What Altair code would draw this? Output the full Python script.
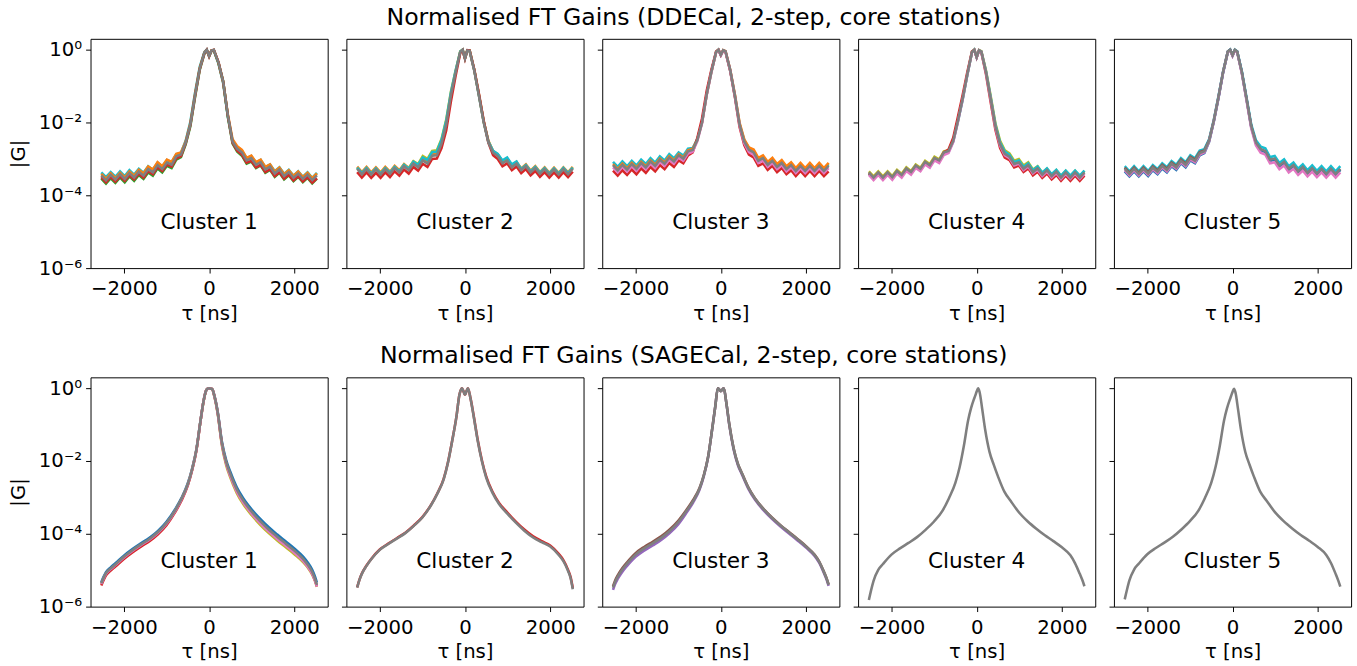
import altair as alt
import pandas as pd

# ---------------- x grids (tau in ns) ----------------
TAU_TOP = [-2530, -2420, -2310, -2200, -2090, -1980, -1870, -1760, -1650, -1540,
           -1430, -1320, -1210, -1100, -990, -880, -770, -660, -550, -440,
           -330, -220, -110, -55, 0, 55, 110, 220, 330, 440,
           550, 660, 770, 880, 990, 1100, 1210, 1320, 1430, 1540,
           1650, 1760, 1870, 1980, 2090, 2200, 2310, 2420, 2530]

TAU_BOT = [-2530, -2480, -2420, -2310, -2200, -2000, -1800, -1600, -1400, -1200,
           -1000, -800, -650, -500, -400, -300, -200, -130, -70, -35,
           0, 35, 70, 130, 200, 300, 400, 500, 650, 800,
           1000, 1200, 1400, 1600, 1800, 2000, 2200, 2310, 2420, 2480, 2530]

# ---------------- DDECal (log10 |G|) ----------------
DDE1_CYAN = [-3.37, -3.50, -3.36, -3.49, -3.34, -3.47, -3.31, -3.43, -3.27, -3.38,
             -3.20, -3.30, -3.10, -3.21, -3.03, -3.09, -2.87, -2.83, -2.50, -1.98,
             -1.18, -0.47, -0.06, 0.0, -0.15, -0.03, -0.02, -0.38, -0.92, -1.84,
             -2.50, -2.68, -2.77, -2.98, -2.92, -3.10, -3.03, -3.23, -3.15, -3.34,
             -3.23, -3.41, -3.30, -3.46, -3.34, -3.49, -3.37, -3.52, -3.38]
DDE1_ORANGE = [-3.41, -3.55, -3.40, -3.53, -3.38, -3.51, -3.35, -3.46, -3.30, -3.40,
               -3.21, -3.29, -3.09, -3.20, -3.02, -3.08, -2.86, -2.82, -2.52, -2.02,
               -1.22, -0.50, -0.07, -0.01, -0.16, -0.02, -0.01, -0.36, -0.90, -1.78,
               -2.46, -2.65, -2.75, -2.97, -2.91, -3.09, -3.02, -3.22, -3.15, -3.35,
               -3.24, -3.42, -3.31, -3.47, -3.35, -3.50, -3.38, -3.53, -3.40]
DDE1_GREEN = [-3.54, -3.68, -3.53, -3.66, -3.51, -3.64, -3.48, -3.60, -3.44, -3.55,
              -3.37, -3.46, -3.26, -3.37, -3.19, -3.25, -3.02, -2.95, -2.60, -2.10,
              -1.30, -0.55, -0.10, -0.01, -0.18, -0.03, -0.01, -0.36, -0.86, -1.84,
              -2.58, -2.80, -2.91, -3.13, -3.07, -3.25, -3.18, -3.38, -3.30, -3.49,
              -3.38, -3.56, -3.45, -3.61, -3.49, -3.64, -3.52, -3.67, -3.54]
DDE1_RED = [-3.50, -3.64, -3.49, -3.62, -3.47, -3.60, -3.44, -3.56, -3.40, -3.51,
            -3.33, -3.42, -3.22, -3.33, -3.15, -3.21, -2.98, -2.92, -2.57, -2.07,
            -1.27, -0.53, -0.09, 0.0, -0.18, -0.02, 0.0, -0.34, -0.87, -1.81,
            -2.55, -2.77, -2.88, -3.10, -3.05, -3.23, -3.16, -3.36, -3.28, -3.47,
            -3.36, -3.54, -3.43, -3.59, -3.47, -3.62, -3.50, -3.65, -3.53]
DDE1_GRAY = [-3.45, -3.59, -3.44, -3.57, -3.42, -3.55, -3.39, -3.51, -3.35, -3.46,
             -3.28, -3.37, -3.17, -3.28, -3.10, -3.16, -2.93, -2.88, -2.55, -2.05,
             -1.25, -0.52, -0.08, 0.0, -0.17, -0.02, 0.0, -0.35, -0.88, -1.80,
             -2.52, -2.72, -2.82, -3.04, -2.98, -3.16, -3.09, -3.29, -3.21, -3.40,
             -3.29, -3.47, -3.36, -3.52, -3.40, -3.55, -3.43, -3.58, -3.45]

DDE2_ORANGE = [-3.21, -3.36, -3.22, -3.37, -3.23, -3.37, -3.22, -3.35, -3.19, -3.31,
               -3.14, -3.25, -3.07, -3.17, -2.98, -3.07, -2.86, -2.85, -2.55, -2.03,
               -1.24, -0.62, -0.06, 0.0, -0.23, -0.02, -0.03, -0.56, -1.26, -1.97,
               -2.50, -2.78, -2.87, -3.07, -2.99, -3.18, -3.08, -3.26, -3.15, -3.32,
               -3.20, -3.36, -3.23, -3.38, -3.24, -3.38, -3.23, -3.37, -3.22]
DDE2_OLIVE = [-3.25, -3.40, -3.26, -3.41, -3.27, -3.41, -3.26, -3.39, -3.23, -3.35,
              -3.16, -3.26, -3.06, -3.14, -2.92, -3.00, -2.78, -2.76, -2.45, -1.92,
              -1.15, -0.58, -0.04, 0.0, -0.23, -0.02, -0.02, -0.56, -1.25, -1.98,
              -2.52, -2.80, -2.89, -3.09, -3.02, -3.21, -3.11, -3.29, -3.18, -3.35,
              -3.23, -3.39, -3.26, -3.41, -3.27, -3.41, -3.26, -3.40, -3.25]
DDE2_CYAN = [-3.24, -3.39, -3.25, -3.40, -3.26, -3.40, -3.25, -3.38, -3.22, -3.34,
             -3.16, -3.27, -3.08, -3.16, -2.96, -3.03, -2.81, -2.80, -2.48, -1.95,
             -1.18, -0.58, -0.05, 0.0, -0.23, -0.02, -0.03, -0.57, -1.27, -1.98,
             -2.52, -2.78, -2.86, -3.04, -2.96, -3.15, -3.07, -3.28, -3.17, -3.34,
             -3.22, -3.38, -3.25, -3.40, -3.26, -3.40, -3.25, -3.39, -3.24]
DDE2_RED = [-3.36, -3.51, -3.37, -3.52, -3.38, -3.52, -3.37, -3.50, -3.34, -3.46,
            -3.29, -3.40, -3.22, -3.32, -3.13, -3.22, -3.00, -2.99, -2.70, -2.22,
            -1.42, -0.72, -0.09, -0.01, -0.25, -0.01, -0.02, -0.55, -1.22, -1.95,
            -2.55, -2.90, -3.00, -3.20, -3.12, -3.31, -3.21, -3.39, -3.28, -3.45,
            -3.33, -3.49, -3.36, -3.51, -3.37, -3.51, -3.36, -3.50, -3.35]
DDE2_GRAY = [-3.27, -3.42, -3.28, -3.43, -3.29, -3.43, -3.28, -3.41, -3.25, -3.37,
             -3.20, -3.31, -3.13, -3.23, -3.04, -3.13, -2.91, -2.90, -2.58, -2.05,
             -1.25, -0.63, -0.06, 0.0, -0.24, -0.02, -0.03, -0.58, -1.28, -2.00,
             -2.55, -2.83, -2.92, -3.12, -3.04, -3.23, -3.13, -3.31, -3.20, -3.37,
             -3.25, -3.41, -3.28, -3.43, -3.29, -3.43, -3.28, -3.42, -3.27]

DDE3_CYAN = [-3.08, -3.22, -3.07, -3.20, -3.05, -3.18, -3.02, -3.14, -2.98, -3.10,
             -2.93, -3.04, -2.87, -2.98, -2.82, -2.91, -2.72, -2.70, -2.45, -1.98,
             -1.21, -0.59, -0.06, 0.0, -0.15, -0.02, -0.05, -0.57, -1.27, -2.04,
             -2.48, -2.70, -2.77, -3.00, -2.93, -3.11, -3.00, -3.17, -3.06, -3.23,
             -3.12, -3.28, -3.14, -3.28, -3.14, -3.28, -3.14, -3.28, -3.14]
DDE3_ORANGE = [-3.14, -3.28, -3.13, -3.26, -3.11, -3.24, -3.08, -3.20, -3.04, -3.16,
               -2.99, -3.10, -2.93, -3.04, -2.87, -2.96, -2.76, -2.72, -2.46, -1.99,
               -1.22, -0.60, -0.06, 0.0, -0.14, -0.01, -0.04, -0.54, -1.22, -2.00,
               -2.46, -2.68, -2.74, -2.97, -2.90, -3.08, -2.97, -3.14, -3.03, -3.20,
               -3.09, -3.25, -3.11, -3.25, -3.11, -3.25, -3.11, -3.25, -3.11]
DDE3_RED = [-3.32, -3.46, -3.31, -3.44, -3.29, -3.42, -3.26, -3.38, -3.22, -3.34,
            -3.17, -3.28, -3.11, -3.22, -3.04, -3.12, -2.90, -2.82, -2.42, -1.88,
            -1.12, -0.54, -0.05, 0.0, -0.15, -0.02, -0.05, -0.58, -1.30, -2.12,
            -2.62, -2.88, -2.96, -3.19, -3.12, -3.30, -3.19, -3.36, -3.25, -3.42,
            -3.31, -3.47, -3.33, -3.47, -3.33, -3.47, -3.33, -3.47, -3.34]
DDE3_PINK = [-3.23, -3.37, -3.22, -3.35, -3.20, -3.33, -3.17, -3.29, -3.13, -3.25,
             -3.08, -3.19, -3.02, -3.13, -2.96, -3.05, -2.85, -2.80, -2.51, -2.02,
             -1.24, -0.61, -0.07, -0.01, -0.15, -0.02, -0.05, -0.56, -1.27, -2.08,
             -2.57, -2.81, -2.88, -3.11, -3.04, -3.22, -3.11, -3.28, -3.17, -3.34,
             -3.23, -3.39, -3.25, -3.39, -3.25, -3.39, -3.25, -3.39, -3.25]
DDE3_GRAY = [-3.17, -3.31, -3.16, -3.29, -3.14, -3.27, -3.11, -3.23, -3.07, -3.19,
             -3.02, -3.13, -2.96, -3.07, -2.90, -2.99, -2.79, -2.75, -2.48, -2.00,
             -1.22, -0.60, -0.06, 0.0, -0.14, -0.01, -0.04, -0.55, -1.25, -2.05,
             -2.52, -2.75, -2.82, -3.05, -2.98, -3.16, -3.05, -3.22, -3.11, -3.28,
             -3.17, -3.33, -3.19, -3.33, -3.19, -3.33, -3.19, -3.33, -3.19]

DDE4_OLIVE = [-3.34, -3.48, -3.34, -3.48, -3.34, -3.47, -3.30, -3.41, -3.23, -3.33,
              -3.15, -3.24, -3.05, -3.14, -2.94, -3.01, -2.79, -2.76, -2.48, -1.94,
              -1.34, -0.67, -0.06, 0.0, -0.19, -0.01, -0.04, -0.58, -1.28, -2.02,
              -2.50, -2.76, -2.85, -3.05, -3.00, -3.18, -3.09, -3.29, -3.20, -3.38,
              -3.27, -3.43, -3.31, -3.47, -3.33, -3.47, -3.33, -3.47, -3.33]
DDE4_CYAN = [-3.41, -3.55, -3.41, -3.55, -3.41, -3.54, -3.37, -3.48, -3.30, -3.40,
             -3.22, -3.31, -3.12, -3.21, -3.01, -3.08, -2.86, -2.81, -2.52, -1.98,
             -1.38, -0.70, -0.07, 0.0, -0.21, -0.02, -0.05, -0.60, -1.32, -2.06,
             -2.55, -2.80, -2.89, -3.09, -3.04, -3.22, -3.12, -3.31, -3.21, -3.38,
             -3.26, -3.42, -3.30, -3.46, -3.32, -3.46, -3.32, -3.46, -3.32]
DDE4_RED = [-3.39, -3.53, -3.39, -3.53, -3.39, -3.52, -3.35, -3.46, -3.28, -3.38,
            -3.20, -3.29, -3.10, -3.19, -2.99, -3.06, -2.82, -2.74, -2.42, -1.84,
            -1.25, -0.62, -0.05, 0.0, -0.21, -0.02, -0.07, -0.68, -1.45, -2.20,
            -2.70, -2.96, -3.03, -3.23, -3.18, -3.36, -3.26, -3.45, -3.35, -3.52,
            -3.40, -3.56, -3.44, -3.60, -3.46, -3.60, -3.46, -3.60, -3.46]
DDE4_PINK = [-3.44, -3.58, -3.44, -3.58, -3.44, -3.57, -3.40, -3.51, -3.33, -3.43,
             -3.25, -3.34, -3.15, -3.24, -3.04, -3.11, -2.89, -2.84, -2.54, -1.98,
             -1.37, -0.69, -0.07, -0.01, -0.21, -0.02, -0.06, -0.64, -1.38, -2.14,
             -2.64, -2.90, -2.98, -3.18, -3.13, -3.31, -3.21, -3.40, -3.30, -3.47,
             -3.35, -3.51, -3.39, -3.55, -3.41, -3.55, -3.41, -3.55, -3.41]
DDE4_GRAY = [-3.37, -3.51, -3.37, -3.51, -3.37, -3.50, -3.33, -3.44, -3.26, -3.36,
             -3.18, -3.27, -3.08, -3.17, -2.97, -3.04, -2.82, -2.78, -2.50, -1.95,
             -1.35, -0.68, -0.06, 0.0, -0.20, -0.01, -0.05, -0.62, -1.35, -2.10,
             -2.60, -2.86, -2.94, -3.14, -3.09, -3.27, -3.17, -3.36, -3.26, -3.43,
             -3.31, -3.47, -3.35, -3.51, -3.37, -3.51, -3.37, -3.51, -3.37]

DDE5_CYAN = [-3.20, -3.34, -3.20, -3.34, -3.20, -3.33, -3.17, -3.28, -3.12, -3.23,
             -3.06, -3.16, -2.98, -3.09, -2.90, -2.98, -2.77, -2.73, -2.46, -1.93,
             -1.28, -0.59, -0.05, 0.0, -0.15, 0.0, -0.05, -0.60, -1.32, -2.06,
             -2.49, -2.66, -2.71, -2.95, -2.92, -3.11, -3.01, -3.20, -3.10, -3.27,
             -3.15, -3.31, -3.18, -3.33, -3.20, -3.34, -3.20, -3.34, -3.20]
DDE5_BROWN = [-3.24, -3.38, -3.24, -3.38, -3.24, -3.37, -3.21, -3.32, -3.16, -3.27,
              -3.10, -3.20, -3.02, -3.13, -2.94, -3.02, -2.81, -2.77, -2.49, -1.96,
              -1.31, -0.61, -0.05, 0.0, -0.15, -0.01, -0.06, -0.63, -1.36, -2.11,
              -2.56, -2.74, -2.80, -3.04, -3.01, -3.20, -3.10, -3.29, -3.19, -3.36,
              -3.24, -3.40, -3.27, -3.42, -3.29, -3.43, -3.29, -3.43, -3.29]
DDE5_BLUE = [-3.34, -3.48, -3.34, -3.48, -3.34, -3.47, -3.31, -3.42, -3.26, -3.37,
             -3.20, -3.30, -3.12, -3.23, -3.04, -3.12, -2.90, -2.84, -2.53, -1.98,
             -1.33, -0.62, -0.06, 0.0, -0.16, -0.01, -0.05, -0.63, -1.37, -2.13,
             -2.58, -2.76, -2.81, -3.05, -3.02, -3.21, -3.11, -3.30, -3.20, -3.37,
             -3.25, -3.41, -3.28, -3.43, -3.30, -3.44, -3.30, -3.44, -3.30]
DDE5_PINK = [-3.31, -3.45, -3.31, -3.45, -3.31, -3.44, -3.28, -3.39, -3.23, -3.34,
             -3.17, -3.27, -3.09, -3.20, -3.01, -3.09, -2.88, -2.82, -2.52, -1.97,
             -1.32, -0.61, -0.06, -0.02, -0.17, -0.02, -0.07, -0.66, -1.40, -2.16,
             -2.63, -2.83, -2.88, -3.12, -3.09, -3.28, -3.18, -3.37, -3.27, -3.44,
             -3.32, -3.48, -3.35, -3.50, -3.37, -3.51, -3.37, -3.51, -3.37]
DDE5_GRAY = [-3.27, -3.41, -3.27, -3.41, -3.27, -3.40, -3.24, -3.35, -3.19, -3.30,
             -3.13, -3.23, -3.05, -3.16, -2.97, -3.05, -2.84, -2.79, -2.50, -1.95,
             -1.30, -0.60, -0.05, 0.0, -0.15, 0.0, -0.05, -0.62, -1.35, -2.10,
             -2.55, -2.73, -2.78, -3.02, -2.99, -3.18, -3.08, -3.27, -3.17, -3.34,
             -3.22, -3.38, -3.25, -3.40, -3.27, -3.41, -3.27, -3.41, -3.27]

# ---------------- SAGECal (log10 |G|) ----------------
SAGE1_BLUE = [-5.33, -5.19, -5.05, -4.92, -4.81, -4.60, -4.42, -4.26, -4.11, -3.92,
              -3.67, -3.33, -3.02, -2.61, -2.21, -1.69, -0.87, -0.35, -0.06, -0.01,
              0.0, -0.01, -0.02, -0.23, -0.63, -1.46, -1.97, -2.30, -2.72, -3.02,
              -3.33, -3.59, -3.82, -4.02, -4.21, -4.40, -4.62, -4.78, -4.99, -5.16, -5.34]
SAGE1_OLIVE = [-5.38, -5.24, -5.10, -4.97, -4.86, -4.65, -4.47, -4.31, -4.16, -3.97,
               -3.72, -3.38, -3.06, -2.65, -2.24, -1.71, -0.89, -0.36, -0.06, -0.01,
               0.0, -0.01, -0.02, -0.26, -0.69, -1.57, -2.11, -2.46, -2.88, -3.18,
               -3.49, -3.75, -3.98, -4.18, -4.37, -4.56, -4.77, -4.92, -5.12, -5.28, -5.46]
SAGE1_RED = [-5.42, -5.28, -5.14, -5.01, -4.90, -4.69, -4.51, -4.35, -4.20, -4.01,
             -3.76, -3.41, -3.09, -2.67, -2.26, -1.72, -0.89, -0.35, -0.06, -0.01,
             0.0, -0.01, -0.02, -0.24, -0.66, -1.52, -2.05, -2.40, -2.82, -3.12,
             -3.43, -3.69, -3.92, -4.12, -4.31, -4.50, -4.72, -4.88, -5.09, -5.26, -5.44]
SAGE1_PINK = [-5.38, -5.24, -5.10, -4.97, -4.86, -4.65, -4.47, -4.31, -4.16, -3.97,
              -3.72, -3.38, -3.06, -2.65, -2.24, -1.71, -0.89, -0.35, -0.06, -0.01,
              0.0, -0.01, -0.02, -0.25, -0.67, -1.54, -2.07, -2.42, -2.84, -3.14,
              -3.45, -3.71, -3.94, -4.14, -4.33, -4.52, -4.74, -4.90, -5.10, -5.27, -5.45]
SAGE1_GRAY = [-5.36, -5.22, -5.08, -4.95, -4.84, -4.63, -4.45, -4.29, -4.14, -3.95,
              -3.70, -3.36, -3.04, -2.63, -2.23, -1.70, -0.88, -0.35, -0.06, -0.01,
              0.0, -0.01, -0.02, -0.24, -0.65, -1.50, -2.02, -2.36, -2.78, -3.08,
              -3.39, -3.65, -3.88, -4.08, -4.27, -4.46, -4.68, -4.84, -5.05, -5.22, -5.40]

SAGE2_RED = [-5.47, -5.27, -5.09, -4.87, -4.69, -4.43, -4.27, -4.12, -3.97, -3.77,
             -3.54, -3.21, -2.89, -2.49, -2.04, -1.44, -0.78, -0.18, 0.0, -0.08,
             -0.18, -0.08, 0.0, -0.27, -0.72, -1.42, -1.99, -2.43, -2.85, -3.15,
             -3.42, -3.67, -3.89, -4.07, -4.20, -4.32, -4.55, -4.72, -4.99, -5.19, -5.49]
SAGE2_GRAY = [-5.48, -5.28, -5.10, -4.88, -4.70, -4.44, -4.28, -4.13, -3.98, -3.78,
              -3.55, -3.22, -2.90, -2.50, -2.05, -1.45, -0.78, -0.18, 0.0, -0.08,
              -0.18, -0.08, 0.0, -0.28, -0.74, -1.45, -2.02, -2.46, -2.88, -3.18,
              -3.45, -3.70, -3.92, -4.10, -4.23, -4.35, -4.58, -4.75, -5.02, -5.22, -5.52]

SAGE3_PURPLE = [-5.54, -5.38, -5.24, -5.04, -4.88, -4.63, -4.46, -4.32, -4.17, -3.98,
                -3.74, -3.41, -3.14, -2.79, -2.42, -1.91, -1.10, -0.50, 0.0, -0.04,
                -0.08, -0.04, 0.0, -0.41, -1.02, -1.68, -2.11, -2.38, -2.77, -3.06,
                -3.35, -3.59, -3.80, -3.99, -4.18, -4.38, -4.61, -4.80, -5.08, -5.25, -5.43]
SAGE3_BROWN = [-5.44, -5.28, -5.14, -4.94, -4.78, -4.53, -4.36, -4.22, -4.07, -3.88,
               -3.64, -3.33, -3.07, -2.74, -2.39, -1.89, -1.09, -0.50, 0.0, -0.04,
               -0.08, -0.04, 0.0, -0.40, -0.99, -1.64, -2.07, -2.34, -2.73, -3.02,
               -3.31, -3.55, -3.76, -3.95, -4.14, -4.34, -4.57, -4.76, -5.04, -5.21, -5.39]
SAGE3_GRAY = [-5.48, -5.32, -5.18, -4.98, -4.82, -4.57, -4.40, -4.26, -4.11, -3.92,
              -3.68, -3.36, -3.10, -2.76, -2.40, -1.90, -1.10, -0.50, 0.0, -0.04,
              -0.08, -0.04, 0.0, -0.40, -1.00, -1.65, -2.08, -2.35, -2.74, -3.03,
              -3.32, -3.56, -3.77, -3.96, -4.15, -4.35, -4.58, -4.77, -5.05, -5.22, -5.40]

SAGE4_GRAY = [-5.82, -5.56, -5.29, -4.99, -4.83, -4.57, -4.40, -4.25, -4.09, -3.89,
              -3.66, -3.36, -3.02, -2.60, -2.17, -1.58, -0.88, -0.54, -0.32, -0.21,
              -0.09, 0.0, -0.11, -0.57, -1.14, -1.74, -2.10, -2.42, -2.84, -3.10,
              -3.42, -3.66, -3.86, -4.04, -4.20, -4.37, -4.59, -4.81, -5.10, -5.27, -5.44]

SAGE5_GRAY = [-5.80, -5.55, -5.28, -4.98, -4.82, -4.56, -4.39, -4.24, -4.08, -3.88,
              -3.65, -3.36, -3.02, -2.60, -2.17, -1.59, -0.89, -0.55, -0.33, -0.22,
              -0.10, -0.01, -0.12, -0.58, -1.15, -1.75, -2.10, -2.42, -2.84, -3.09,
              -3.41, -3.65, -3.85, -4.03, -4.19, -4.36, -4.58, -4.80, -5.10, -5.28, -5.45]

CLUSTERS = ["Cluster 1", "Cluster 2", "Cluster 3", "Cluster 4", "Cluster 5"]

TAB = {"blue": "#1f77b4", "orange": "#ff7f0e", "green": "#2ca02c", "red": "#d62728",
       "purple": "#9467bd", "brown": "#8c564b", "pink": "#e377c2", "gray": "#7f7f7f",
       "olive": "#bcbd22", "cyan": "#17becf"}

DDE_SERIES = [
    [("cyan", DDE1_CYAN), ("orange", DDE1_ORANGE), ("green", DDE1_GREEN), ("red", DDE1_RED), ("gray", DDE1_GRAY)],
    [("orange", DDE2_ORANGE), ("olive", DDE2_OLIVE), ("cyan", DDE2_CYAN), ("red", DDE2_RED), ("gray", DDE2_GRAY)],
    [("cyan", DDE3_CYAN), ("orange", DDE3_ORANGE), ("red", DDE3_RED), ("pink", DDE3_PINK), ("gray", DDE3_GRAY)],
    [("olive", DDE4_OLIVE), ("cyan", DDE4_CYAN), ("red", DDE4_RED), ("pink", DDE4_PINK), ("gray", DDE4_GRAY)],
    [("cyan", DDE5_CYAN), ("brown", DDE5_BROWN), ("blue", DDE5_BLUE), ("pink", DDE5_PINK), ("gray", DDE5_GRAY)],
]
SAGE_SERIES = [
    [("blue", SAGE1_BLUE), ("olive", SAGE1_OLIVE), ("red", SAGE1_RED), ("pink", SAGE1_PINK), ("gray", SAGE1_GRAY)],
    [("red", SAGE2_RED), ("gray", SAGE2_GRAY)],
    [("purple", SAGE3_PURPLE), ("brown", SAGE3_BROWN), ("gray", SAGE3_GRAY)],
    [("gray", SAGE4_GRAY)],
    [("gray", SAGE5_GRAY)],
]

for grp in DDE_SERIES:
    for _, v in grp:
        assert len(v) == len(TAU_TOP), len(v)
for grp in SAGE_SERIES:
    for _, v in grp:
        assert len(v) == len(TAU_BOT), len(v)

W, H = 241, 233
FONT = "DejaVu Sans"

Y_LABELS = ("datum.value >= 0.5 ? '10\u2070' : datum.value >= 0.005 ? '10\u207b\u00b2' : "
            "datum.value >= 0.00005 ? '10\u207b\u2074' : '10\u207b\u2076'")
X_LABELS = "datum.value < 0 ? '\u2212' + format(-datum.value, 'd') : format(datum.value, 'd')"


def panel(series, tau, label, first, smooth):
    layers = []
    for cname, vals in series:
        df = pd.DataFrame({"tau": tau, "G": [10 ** v for v in vals]})
        if first:
            yax = alt.Axis(values=[1e-6, 1e-4, 1e-2, 1], labelExpr=Y_LABELS, title="|G|", grid=False)
        else:
            yax = alt.Axis(values=[1e-6, 1e-4, 1e-2, 1], labels=False, title="", grid=False)
        line = alt.Chart(df).mark_line(
            color=TAB[cname], strokeWidth=2.6, clip=True,
            interpolate="monotone" if smooth else "linear"
        ).encode(
            x=alt.X("tau:Q", scale=alt.Scale(domain=[-2783, 2783], nice=False, zero=False),
                    axis=alt.Axis(values=[-2000, 0, 2000], labelExpr=X_LABELS,
                                  title="\u03c4 [ns]", grid=False)),
            y=alt.Y("G:Q", scale=alt.Scale(type="log", domain=[1e-6, 2], nice=False),
                    axis=yax),
        )
        layers.append(line)
    txt = alt.Chart(pd.DataFrame({"label": [label]})).mark_text(
        fontSize=22, font=FONT, color="black", align="center", baseline="middle"
    ).encode(x=alt.value(W / 2), y=alt.value(H * 0.8), text="label:N")
    layers.append(txt)
    return alt.layer(*layers).properties(width=W, height=H)


def row_title(text):
    return alt.TitleParams(text, anchor="middle", fontSize=24, font=FONT, dx=14,
                           fontWeight="normal", color="black", offset=9)


row1 = alt.hconcat(
    *[panel(DDE_SERIES[i], TAU_TOP, CLUSTERS[i], i == 0, False) for i in range(5)],
    spacing=12,
).properties(title=row_title("Normalised FT Gains (DDECal, 2-step, core stations)"))

row2 = alt.hconcat(
    *[panel(SAGE_SERIES[i], TAU_BOT, CLUSTERS[i], i == 0, True) for i in range(5)],
    spacing=12,
).properties(title=row_title("Normalised FT Gains (SAGECal, 2-step, core stations)"))

chart = alt.vconcat(row1, row2, spacing=20).properties(
    padding={"left": 8, "top": 0, "right": 5, "bottom": 5},
    background="white",
).configure_view(
    stroke="black", strokeWidth=1
).configure_axis(
    domain=False, tickColor="black", tickSize=5, tickWidth=1,
    labelFont=FONT, labelFontSize=20, labelColor="black", labelPadding=4,
    titleFont=FONT, titleFontSize=20, titleFontWeight="normal", titleColor="black",
).configure_axisY(titlePadding=10).configure_axisX(titlePadding=5, labelPadding=6)

chart.save("out.html", embed_options={"renderer": "svg", "actions": False})
